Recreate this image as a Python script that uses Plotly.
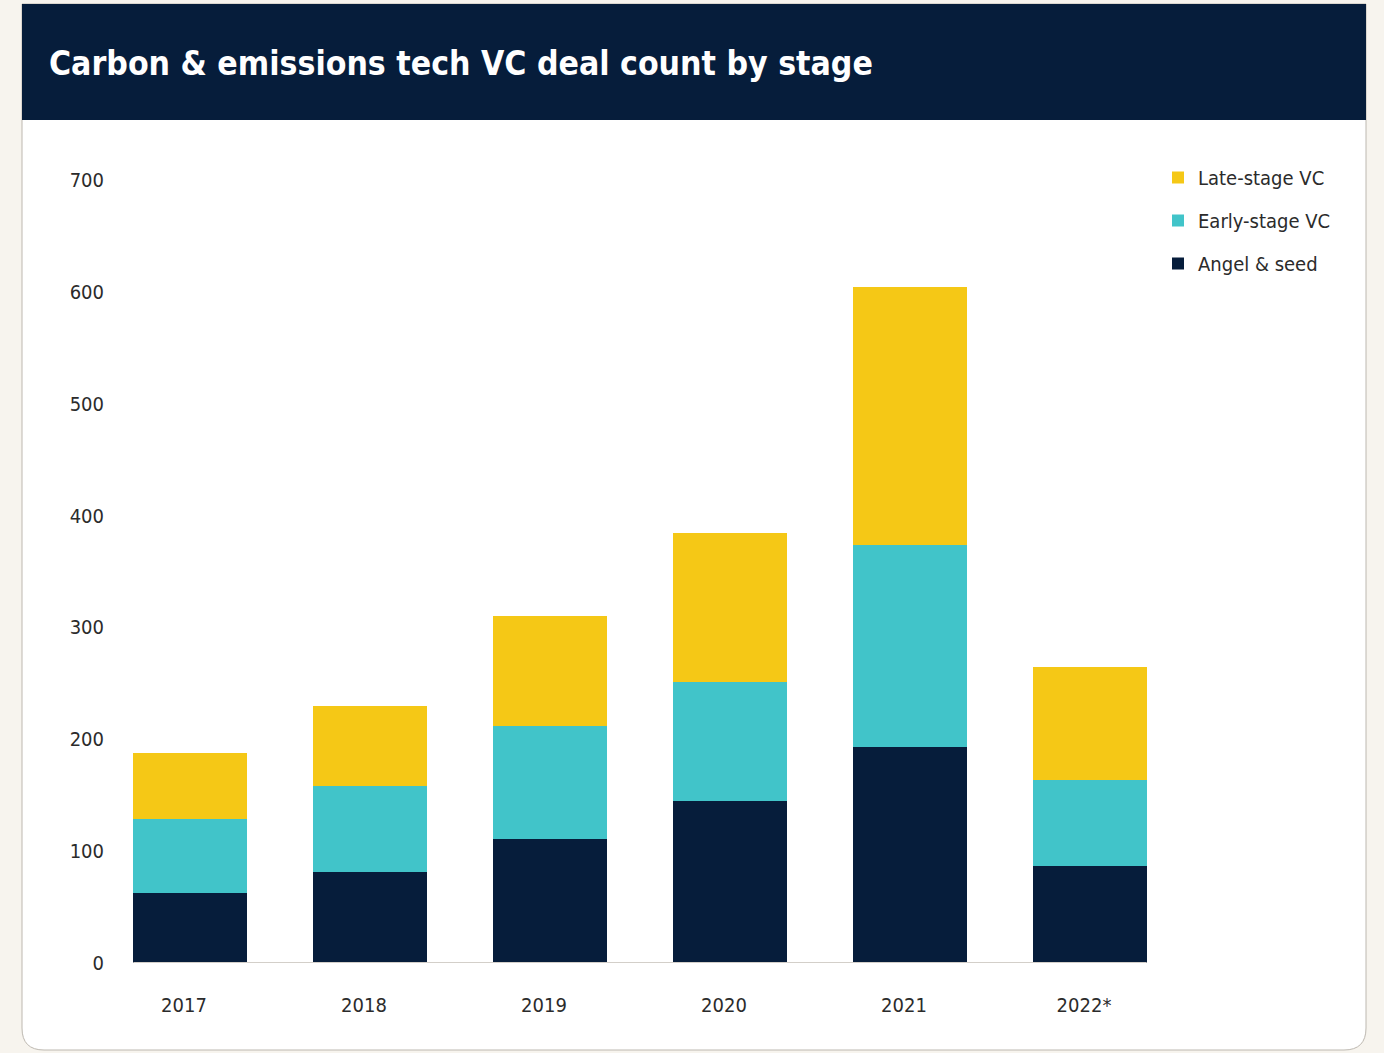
import plotly.graph_objects as go

# Deal counts per year, split by stage
years = ["2017", "2018", "2019", "2020", "2021", "2022*"]
angel_seed = [63, 81, 111, 145, 193, 87]
early_stage = [66, 77, 101, 106, 181, 77]
late_stage = [59, 72, 98, 133, 230, 101]
y_ticks = [0, 100, 200, 300, 400, 500, 600, 700]

NAVY = "#061d3b"
TEAL = "#41c4c9"
YELLOW = "#f5c816"
CREAM = "#f7f4ee"
FONT = "DejaVu Sans Condensed, Lato, sans-serif"
TEXT = "#2b2b2b"

W, H = 1384, 1053
L, R, T, B = 112, 1180, 180, 963


def px(x):
    return (x - L) / (R - L)


def py(y):
    return (B - y) / (B - T)


fig = go.Figure()
# stacked bottom to top; legend lists them top to bottom
series = [
    ("Angel & seed", angel_seed, NAVY, 3),
    ("Early-stage VC", early_stage, TEAL, 2),
    ("Late-stage VC", late_stage, YELLOW, 1),
]
for name, vals, color, rank in series:
    fig.add_trace(go.Bar(
        x=years, y=vals, name=name, legendgroup=name, legendrank=rank,
        marker=dict(color=color, line=dict(width=0)),
        hovertemplate="%{x}: %{y}<extra>" + name + "</extra>",
    ))

# card: rounded white body with a navy header band
x0, x1, y0, y1, rad = px(22), px(1366), py(1050), py(4), 22
rx = rad / (R - L)
ry = rad / (B - T)
card_path = (
    f"M{x0},{y1} L{x1},{y1} L{x1},{y0 + ry} Q{x1},{y0} {x1 - rx},{y0} "
    f"L{x0 + rx},{y0} Q{x0},{y0} {x0},{y0 + ry} Z"
)
shapes = [
    dict(type="path", path=card_path, xref="paper", yref="paper",
         fillcolor="white", line=dict(color="#bdb8b0", width=1), layer="below"),
    dict(type="rect", xref="paper", yref="paper", x0=x0, x1=x1, y0=py(120), y1=y1,
         fillcolor=NAVY, line=dict(width=0), layer="below"),
    # baseline under the bars
    dict(type="line", xref="x", yref="y", x0=-0.315, x1=5.315, y0=0, y1=0,
         line=dict(color="#d3cfc9", width=2), layer="above"),
]

fig.update_layout(
    width=W, height=H,
    margin=dict(l=L, r=W - R, t=T, b=H - B, pad=0),
    paper_bgcolor=CREAM,
    plot_bgcolor="rgba(0,0,0,0)",
    barmode="stack",
    bargap=0.37,
    font=dict(family=FONT, color=TEXT, size=20),
    shapes=shapes,
    annotations=[dict(
        text="<b>Carbon & emissions tech VC deal count by stage</b>",
        xref="paper", yref="paper", x=px(47), y=py(63),
        xanchor="left", yanchor="middle", showarrow=False,
        font=dict(family=FONT, size=33.5, color="white"),
    )],
    xaxis=dict(
        type="category", range=[-0.4333, 5.5],
        showgrid=False, showline=False, zeroline=False,
        ticks="", ticklabelstandoff=28, ticklabelshift=-6,
        tickfont=dict(size=20, color=TEXT),
    ),
    yaxis=dict(
        range=[0, 700], tickvals=y_ticks,
        showgrid=False, showline=False, zeroline=False,
        ticks="", ticklabelstandoff=7,
        tickfont=dict(size=20, color=TEXT),
    ),
    legend=dict(
        traceorder="grouped", tracegroupgap=14,
        x=px(1158), y=py(158), xanchor="left", yanchor="top",
        bgcolor="rgba(0,0,0,0)", font=dict(size=20, color=TEXT),
        itemwidth=30,
    ),
)

fig.write_html("out.html")
